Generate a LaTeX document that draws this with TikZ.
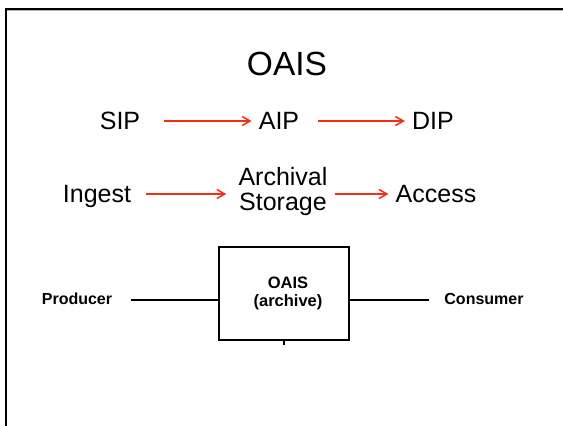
\documentclass[tikz,border=0pt]{standalone}
\usepackage{fontspec}
\setmainfont{Liberation Sans}
\usetikzlibrary{arrows.meta}
\definecolor{flowred}{RGB}{245,45,20}
\tikzset{
  lbl/.style={inner sep=0pt, font=\fontsize{25}{25}\selectfont},
  rowtxt/.style={lbl, text height=18pt, text depth=0pt},
  flow/.style={draw=flowred, line width=1.5pt, -{Straight Barb[length=8pt,width=9pt,line width=1.5pt]}},
  party/.style={inner sep=0pt, font=\fontsize{16}{18}\bfseries\selectfont, text height=10pt, text depth=0pt},
  link/.style={line width=1.2pt},
  archbox/.style={draw, line width=1.5pt, minimum width=130pt, minimum height=93pt},
  archtxt/.style={inner sep=0pt, align=center, font=\fontsize{16.5}{18}\bfseries\selectfont}
}
\begin{document}
\begin{tikzpicture}[x=1pt,y=1pt]
\useasboundingbox (0,0) rectangle (563,426);

% slide frame (top and left edges)
\draw[gray!60, line width=1pt] (7,415.5) -- (563,415.5);
\draw[line width=2.5pt] (563,417) -- (6,417) -- (6,0);

% title
\node[lbl, font=\fontsize{33.5}{36}\selectfont, anchor=base] (title) at (287,350) {OAIS};

% information packages
\node[rowtxt] (sip) at (120,305) {SIP};
\node[rowtxt] (aip) at (279,305) {AIP};
\node[rowtxt] (dip) at (433,305) {DIP};
\draw[flow, shorten <=24pt, shorten >=7pt] (sip.east) -- (aip.west);
\draw[flow, shorten <=19pt, shorten >=7pt] (aip.east) -- (dip.west);

% functional entities
\node[rowtxt] (ingest) at (97,232) {Ingest};
\node[lbl, align=center, anchor=base] (store) at (283,215) {Archival\\Storage};
\node[rowtxt] (access) at (436,232) {Access};
\draw[flow, shorten <=15pt, shorten >=12pt] (ingest.east) -- (ingest.east -| store.west);
\draw[flow, shorten <=7pt, shorten >=7pt] (access.west -| store.east) -- (access.west);

% archive with producer and consumer
\node[archbox] (oais) at (284,132.5) {};
\node[archtxt] (oaistxt) at ([xshift=4pt]oais.center) {OAIS\\(archive)};
\node[party] (prod) at (77,126) {Producer};
\node[party] (cons) at (484,126) {Consumer};
\draw[link, shorten <=19pt] (prod.east) -- (prod.east -| oais.west);
\draw[link, shorten >=15pt] (cons.west -| oais.east) -- (cons.west);
\draw[line width=1.2pt] (oais.south) -- ++(0,-4);
\end{tikzpicture}
\end{document}
